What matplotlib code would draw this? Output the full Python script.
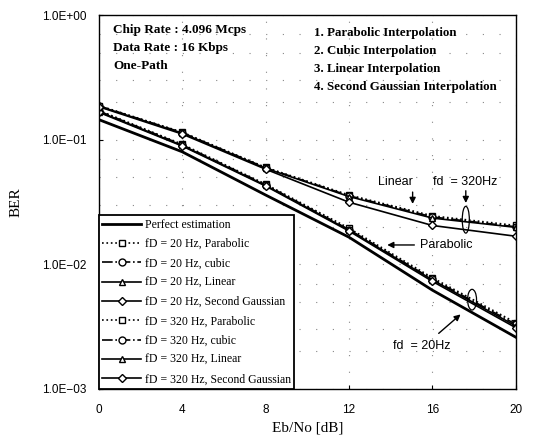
import numpy as np
import matplotlib.pyplot as plt
from matplotlib.patches import Ellipse
from matplotlib.ticker import LogLocator

# Eb/No [dB]
snr = [0, 4, 8, 12, 16, 20]

# BER-kurver
perfect = [0.145, 0.080, 0.036, 0.0165, 0.0062, 0.0026]

fd20_parabolic = [0.172, 0.092, 0.044, 0.0195, 0.0078, 0.0034]
fd20_cubic     = [0.170, 0.091, 0.0435, 0.0190, 0.0076, 0.0033]
fd20_linear    = [0.168, 0.090, 0.0430, 0.0188, 0.0075, 0.0032]
fd20_gauss     = [0.166, 0.089, 0.0425, 0.0185, 0.0073, 0.0031]

fd320_parabolic = [0.188, 0.115, 0.060, 0.0360, 0.0245, 0.0205]
fd320_cubic     = [0.187, 0.114, 0.0595, 0.0355, 0.0240, 0.0200]
fd320_linear    = [0.186, 0.113, 0.0590, 0.0350, 0.0235, 0.0198]
fd320_gauss     = [0.184, 0.111, 0.0580, 0.0315, 0.0205, 0.0168]

labels = ["Perfect estimation",
          "fD = 20 Hz, Parabolic", "fD = 20 Hz, cubic",
          "fD = 20 Hz, Linear", "fD = 20 Hz, Second Gaussian",
          "fD = 320 Hz, Parabolic", "fD = 320 Hz, cubic",
          "fD = 320 Hz, Linear", "fD = 320 Hz, Second Gaussian"]

serif = "Liberation Serif"
sans = "Liberation Sans"

fig = plt.figure(figsize=(5.34, 4.44), dpi=100)
ax = fig.add_axes([0.185, 0.124, 0.781, 0.842])

ax.plot(snr, perfect, color="black", lw=2.0, label=labels[0])
series = [fd20_parabolic, fd20_cubic, fd20_linear, fd20_gauss,
          fd320_parabolic, fd320_cubic, fd320_linear, fd320_gauss]
markers = ["s", "o", "^", "D", "s", "o", "^", "D"]
styles = [":", "-.", "-", "-", ":", "-.", "-", "-"]
for i, s in enumerate(series):
    ax.plot(snr, s, color="black", lw=1.2, ls=styles[i], marker=markers[i],
            ms=5 if markers[i] != "D" else 4, mfc="white", mec="black", mew=1.0,
            label=labels[i + 1])

ax.set_yscale("log")
ax.set_xlim(0, 20)
ax.set_ylim(1e-3, 1)
ax.set_xticks([0, 4, 8, 12, 16, 20])
ax.set_yticks([1e-3, 1e-2, 1e-1, 1])
ax.set_yticklabels(["1.0E\u221203", "1.0E\u221202", "1.0E\u221201", "1.0E+00"])
ax.yaxis.set_minor_locator(LogLocator(base=10, subs=[2, 3, 5, 7]))
ax.yaxis.set_minor_formatter(plt.NullFormatter())
ax.tick_params(axis="both", which="major", direction="in", length=3,
               labelsize=8.5)
ax.tick_params(axis="x", which="major", pad=11)
ax.tick_params(axis="y", which="major", pad=9)
ax.tick_params(axis="y", which="minor", length=0)
for lab in ax.get_xticklabels() + ax.get_yticklabels():
    lab.set_fontfamily(sans)

ax.grid(True, which="both", color="#888888", lw=0.8, ls=(0, (1, 14)))

ax.set_xlabel("Eb/No [dB]", family=serif, fontsize=11)
ax.set_ylabel("BER", family=serif, fontsize=11, labelpad=14)

# tekstbokse
ax.text(0.035, 0.975, "Chip Rate : 4.096 Mcps\nData Rate : 16 Kbps\nOne-Path",
        transform=ax.transAxes, va="top", ha="left", family=serif,
        fontweight="bold", fontsize=9.5, linespacing=1.65)
ax.text(0.515, 0.968, "1. Parabolic Interpolation\n2. Cubic Interpolation\n"
        "3. Linear Interpolation\n4. Second Gaussian Interpolation",
        transform=ax.transAxes, va="top", ha="left", family=serif,
        fontweight="bold", fontsize=9.3, linespacing=1.68)

# annoteringer
arr = dict(arrowstyle="-|>", color="black", lw=1.0, mutation_scale=9)
ax.annotate("", xy=(15.05, 0.029), xytext=(15.05, 0.040), arrowprops=arr)
ax.text(15.05, 0.046, "Linear", ha="right", va="center", family=sans,
        fontsize=9)
ax.annotate("", xy=(17.6, 0.0295), xytext=(17.6, 0.041), arrowprops=arr)
ax.text(17.55, 0.046, "fd  = 320Hz", ha="center", va="center", family=sans,
        fontsize=9)
ax.annotate("Parabolic", xy=(13.7, 0.0143), xytext=(15.4, 0.0143), ha="left",
            va="center", family=sans, fontsize=9, arrowprops=arr)
ax.annotate("", xy=(17.45, 0.0041), xytext=(16.2, 0.0027), arrowprops=arr)
ax.text(15.5, 0.0022, "fd  = 20Hz", ha="center", va="center", family=sans,
        fontsize=9)


def log_ellipse(xc, ylo, yhi, w):
    # ellipse i log-rum via axes-koordinater
    x_ax = xc / 20.0
    y1 = (np.log10(ylo) + 3) / 3.0
    y2 = (np.log10(yhi) + 3) / 3.0
    e = Ellipse((x_ax, (y1 + y2) / 2), w / 20.0, y2 - y1, transform=ax.transAxes,
                fill=False, edgecolor="black", lw=0.9)
    ax.add_patch(e)


log_ellipse(17.6, 0.0178, 0.0292, 0.34)
log_ellipse(17.9, 0.0043, 0.0063, 0.43)

leg = ax.legend(loc="lower left", bbox_to_anchor=(0.0, 0.0),
                prop={"family": serif, "size": 8.5},
                frameon=True, fancybox=False, borderpad=0.3, labelspacing=0.62,
                handlelength=3.3, handletextpad=0.3, borderaxespad=0.0)
leg.get_frame().set_edgecolor("black")
leg.get_frame().set_linewidth(1.3)
leg.get_frame().set_alpha(1)

for sp in ax.spines.values():
    sp.set_linewidth(1.0)

fig.savefig("out.png", dpi=100)
